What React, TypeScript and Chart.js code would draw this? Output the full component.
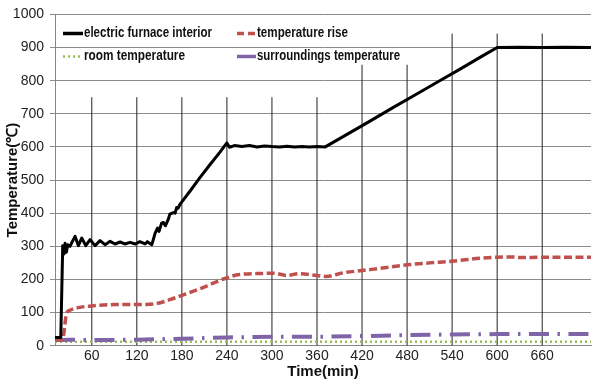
import React, { useEffect, useRef } from 'react';
import { Chart, registerables } from 'chart.js';

Chart.register(...registerables);

// ---------- data ----------
const seriesNames = [
  'electric furnace interior',
  'temperature rise',
  'room temperature',
  'surroundings temperature',
];

const xTickValues = [60, 120, 180, 240, 300, 360, 420, 480, 540, 600, 660];
const yTickValues = [0, 100, 200, 300, 400, 500, 600, 700, 800, 900, 1000];

const furnaceTime = [
  11, 18.7, 21.3, 23, 24.4, 26.2, 27.9, 31, 34.2, 37.7, 42.2, 46.6, 52, 57.7, 64.4, 71, 77.7,
  84.4, 91, 97.7, 104, 111, 118, 124, 131, 134, 140, 144.4, 147.5, 149.6, 153, 155.4, 158, 162,
  164, 168.8, 171, 173, 175, 177.6, 181, 191, 204, 217.6, 231, 236, 240, 243.4, 250, 260, 270,
  280, 290, 300, 310, 320, 330, 340, 350, 360, 371, 400, 430, 460, 490, 520, 550, 580, 600, 630,
  660, 690, 725,
];
const furnaceTemp = [
  25, 25, 302, 277, 309, 282, 305, 300, 315, 330, 302, 325, 302, 320, 302, 317, 305,
  315, 307, 313, 307, 312, 307, 314, 307, 314, 305, 340, 355, 345, 370, 372, 362, 382,
  397, 402, 400, 417, 415, 427, 437, 467, 507, 547, 585, 600, 612, 599, 604, 601, 604,
  600, 603, 601, 600, 602, 600, 601, 600, 601, 600, 638, 677, 717, 756, 795, 834, 874, 900, 901,
  900, 901, 900,
];

const riseTime = [
  11, 21, 23, 25, 27, 31, 42, 60, 89, 120, 146, 164, 180, 204, 240, 257, 288, 302, 320, 335,
  360, 372, 395, 420, 450, 480, 510, 540, 577, 600, 620, 631, 660, 690, 725,
];
const riseTemp = [
  18, 18, 40, 80, 100, 107, 115, 120, 124, 124, 127, 139, 152, 172, 205, 215, 218, 219, 212, 217,
  212, 209, 220, 227, 235, 244, 250, 255, 264, 267, 268, 266, 267, 267, 267,
];

const roomTime = [11, 120, 240, 360, 480, 600, 725];
const roomTemp = [12, 12, 12, 12, 12, 12, 12];

const surroundTime = [11, 20, 30, 60, 120, 180, 240, 300, 360, 420, 480, 540, 600, 660, 725];
const surroundTemp = [17, 17, 18, 17, 18, 21, 25, 27, 27, 29, 32, 34, 35, 35, 35];

// vertical reference lines (time, top value)
const markerTimes = [60, 120, 180, 240, 300, 360, 420, 480, 540, 600, 660];
const markerTops = [750, 750, 750, 750, 750, 750, 848, 848, 942, 942, 942];

const xMin = 11;
const xMax = 725;

// ---------- styles ----------
const colors = ['#000000', '#c0504d', '#9bbb59', '#7f64a8'];
const narrow = "'Liberation Sans Narrow', 'Liberation Sans', Arial, sans-serif";
const wide = "'Liberation Sans', Arial, sans-serif";

const pts = (xs: number[], ys: number[]) => xs.map((x, i) => ({ x, y: ys[i] }));

const legendPlugin = {
  id: 'customLegend',
  afterDraw(chart: any) {
    const ctx = chart.ctx as CanvasRenderingContext2D;
    const items = [
      { i: 0, sx: 63, ex: 83, tx: 84, y: 33.5, w: 128 },
      { i: 1, sx: 237, ex: 256, tx: 257, y: 33.5, w: 91 },
      { i: 2, sx: 63, ex: 83, tx: 84, y: 56.5, w: 101 },
      { i: 3, sx: 237, ex: 256, tx: 257, y: 56.5, w: 143 },
    ];
    ctx.save();
    items.forEach((it) => {
      const ds = chart.data.datasets[it.i];
      ctx.beginPath();
      ctx.strokeStyle = ds.borderColor;
      ctx.lineWidth = it.i === 2 ? 2.5 : 3.5;
      if (it.i === 1) ctx.setLineDash([7, 4]);
      else if (it.i === 2) ctx.setLineDash([2, 3]);
      else ctx.setLineDash([]);
      ctx.moveTo(it.sx, it.y);
      ctx.lineTo(it.ex, it.y);
      ctx.stroke();
      ctx.setLineDash([]);
      ctx.fillStyle = '#111';
      ctx.font = `bold 14px ${narrow}`;
      ctx.textBaseline = 'middle';
      ctx.textAlign = 'left';
      ctx.fillText(seriesNames[it.i], it.tx, it.y, it.w);
    });
    ctx.restore();
  },
};

export default function App() {
  const ref = useRef<HTMLCanvasElement>(null);

  useEffect(() => {
    document.body.style.margin = '0';
    if (!ref.current) return;
    const markerData: any[] = [];
    markerTimes.forEach((t, i) => {
      markerData.push({ x: t, y: 0 }, { x: t, y: markerTops[i] }, { x: t, y: null });
    });

    const chart = new Chart(ref.current, {
      type: 'line',
      data: {
        datasets: [
          {
            label: seriesNames[0],
            data: pts(furnaceTime, furnaceTemp),
            borderColor: colors[0],
            borderWidth: 3,
            pointRadius: 0,
            tension: 0,
            borderJoinStyle: 'round',
            order: 1,
          },
          {
            label: seriesNames[1],
            data: pts(riseTime, riseTemp),
            borderColor: colors[1],
            borderWidth: 3.5,
            borderDash: [8, 3.5],
            pointRadius: 0,
            cubicInterpolationMode: 'monotone',
            order: 2,
          },
          {
            label: seriesNames[2],
            data: pts(roomTime, roomTemp),
            borderColor: colors[2],
            borderWidth: 2.5,
            borderDash: [2, 3],
            pointRadius: 0,
            order: 4,
          },
          {
            label: seriesNames[3],
            data: pts(surroundTime, surroundTemp),
            borderColor: colors[3],
            borderWidth: 4,
            borderDash: [20, 8.5, 2.5, 8.5],
            pointRadius: 0,
            order: 3,
          },
          {
            label: 'markers',
            data: markerData,
            borderColor: '#222',
            borderWidth: 1,
            pointRadius: 0,
            spanGaps: false,
            order: 10,
          },
        ],
      },
      options: {
        animation: false,
        responsive: false,
        events: [],
        layout: { padding: { top: 12.7, right: 1, left: 0, bottom: 0 } },
        plugins: {
          legend: { display: false },
          tooltip: { enabled: false },
        },
        scales: {
          x: {
            type: 'linear',
            min: xMin,
            max: xMax,
            afterFit: (s: any) => {
              s.height = 37.3;
            },
            afterBuildTicks: (s: any) => {
              s.ticks = xTickValues.map((v) => ({ value: v }));
            },
            grid: { display: false, drawTicks: false },
            border: { display: true, color: '#868686', width: 1 },
            ticks: {
              color: '#222',
              font: { family: narrow, size: 14 },
              padding: 2,
              maxRotation: 0,
              autoSkip: false,
              callback: (v: any) => String(v),
            },
            title: {
              display: true,
              text: 'Time(min)',
              color: '#111',
              font: { family: wide, size: 15, weight: 'bold' },
              padding: { top: 0, bottom: 2 },
            },
          },
          y: {
            type: 'linear',
            min: 0,
            max: 1000,
            afterFit: (s: any) => {
              s.width = 55;
            },
            afterBuildTicks: (s: any) => {
              s.ticks = yTickValues.map((v) => ({ value: v }));
            },
            grid: { color: '#8c8c8c', lineWidth: 1, drawTicks: true, tickLength: 5 },
            border: { display: true, color: '#868686', width: 1 },
            ticks: {
              color: '#222',
              font: { family: narrow, size: 14 },
              padding: 6,
              callback: (v: any) => String(v),
            },
            title: {
              display: true,
              text: 'Temperature(℃)',
              color: '#111',
              font: { family: wide, size: 15, weight: 'bold' },
              padding: { top: 4, bottom: 0 },
            },
          },
        },
      },
      plugins: [legendPlugin],
    } as any);
    return () => chart.destroy();
  }, []);

  return (
    <div style={{ width: 592, height: 383, background: '#fff' }}>
      <canvas ref={ref} width={592} height={383} style={{ display: 'block' }} />
    </div>
  );
}
